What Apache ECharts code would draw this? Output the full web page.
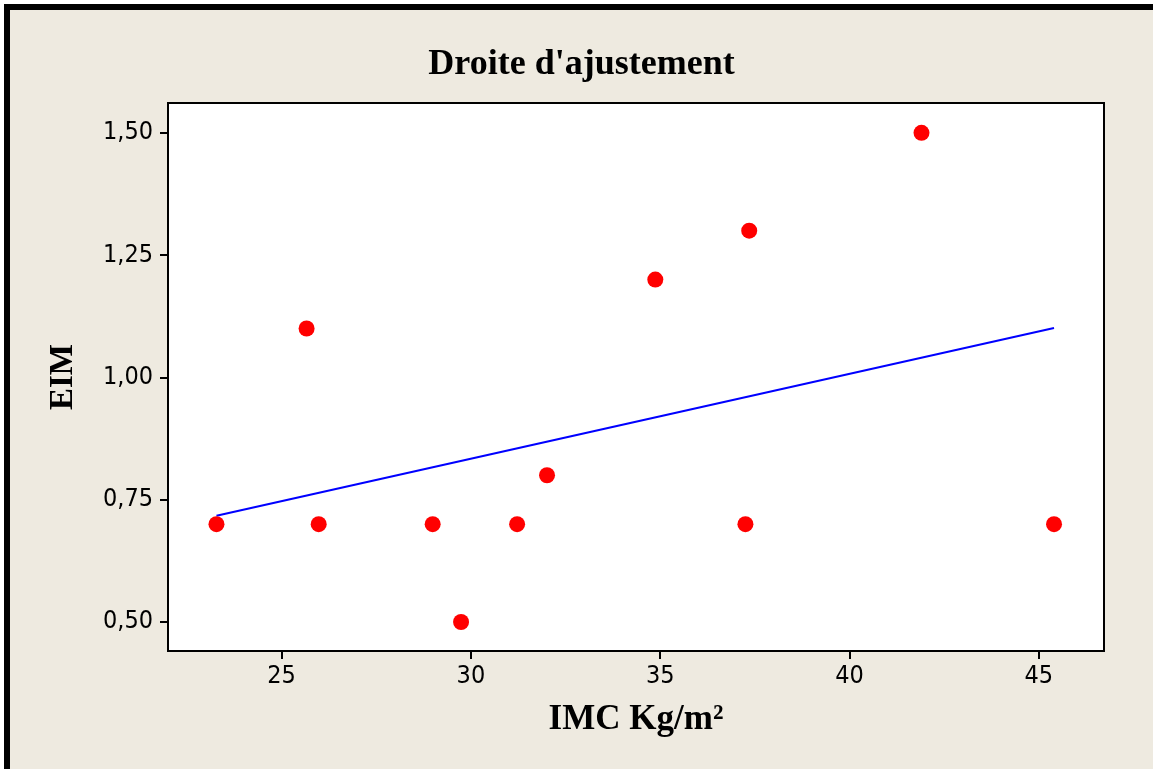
<!DOCTYPE html>
<html>
<head>
<meta charset="utf-8">
<script src="https://cdn.jsdelivr.net/npm/echarts@6/dist/echarts.min.js"></script>
<style>
    html, body { margin: 0; padding: 0; background: #fff; }
    #main {
        position: absolute; left: 4px; top: 4px;
        width: 1143px; height: 759px;
        border-top: 6px solid #000; border-left: 6px solid #000;
    }
</style>
</head>
<body>
<div id="main"></div>
<script>
// IMC (kg/m²) et EIM
var imc = [23.28, 25.66, 25.98, 28.99, 29.74, 31.22, 32.01, 34.87, 37.25, 37.35, 41.90, 45.40];
var eim = [0.70, 1.10, 0.70, 0.70, 0.50, 0.70, 0.80, 1.20, 0.70, 1.30, 1.50, 0.70];
// droite d'ajustement (extrémités)
var fitX = [23.28, 45.40];
var fitY = [0.717, 1.101];
var xTicks = [25, 30, 35, 40, 45];
var yTicks = [0.50, 0.75, 1.00, 1.25, 1.50];

var points = [];
for (var i = 0; i < imc.length; i++) {
    points.push([imc[i], eim[i]]);
}
var fitLine = [];
for (var j = 0; j < fitX.length; j++) {
    fitLine.push([fitX[j], fitY[j]]);
}

var myChart = echarts.init(document.getElementById('main'));
var labelFont = "'DejaVu Sans Condensed', 'DejaVu Sans', sans-serif";
var titleFont = "'Liberation Serif', 'DejaVu Serif', serif";

option = {
    backgroundColor: '#EEEAE0',
    animation: false,
    title: {
        text: "Droite d'ajustement",
        left: 'center',
        top: 32,
        textStyle: { fontFamily: titleFont, fontWeight: 'bold', fontSize: 36, color: '#000' }
    },
    grid: {
        left: 158,
        top: 93,
        width: 936,
        height: 548,
        show: true,
        backgroundColor: '#fff',
        borderColor: '#000',
        borderWidth: 2
    },
    xAxis: {
        type: 'value',
        min: 22,
        max: 46.72,
        name: 'IMC Kg/m²',
        nameLocation: 'middle',
        nameGap: 51,
        nameTextStyle: { fontFamily: titleFont, fontWeight: 'bold', fontSize: 35, color: '#000' },
        splitLine: { show: false },
        axisLine: { show: false },
        axisTick: { show: true, length: 8, customValues: xTicks, lineStyle: { color: '#000', width: 2 } },
        axisLabel: {
            customValues: xTicks,
            margin: 13,
            fontFamily: labelFont, fontSize: 25, color: '#000'
        }
    },
    yAxis: {
        type: 'value',
        min: 0.4407,
        max: 1.561,
        name: 'EIM',
        nameLocation: 'middle',
        nameGap: 88,
        nameTextStyle: { fontFamily: titleFont, fontWeight: 'bold', fontSize: 33, color: '#000' },
        splitLine: { show: false },
        axisLine: { show: false },
        axisTick: { show: true, length: 8, customValues: yTicks, lineStyle: { color: '#000', width: 2 } },
        axisLabel: {
            customValues: yTicks,
            margin: 15,
            fontFamily: labelFont, fontSize: 25, color: '#000',
            formatter: function (v) { return v.toFixed(2).replace('.', ','); }
        }
    },
    series: [
        {
            type: 'line',
            data: fitLine,
            symbol: 'none',
            lineStyle: { color: '#0000FF', width: 2 },
            z: 2
        },
        {
            type: 'scatter',
            data: points,
            symbolSize: 16,
            itemStyle: { color: '#FF0000', opacity: 1 },
            z: 3
        }
    ]
};
myChart.setOption(option);
</script>
</body>
</html>
